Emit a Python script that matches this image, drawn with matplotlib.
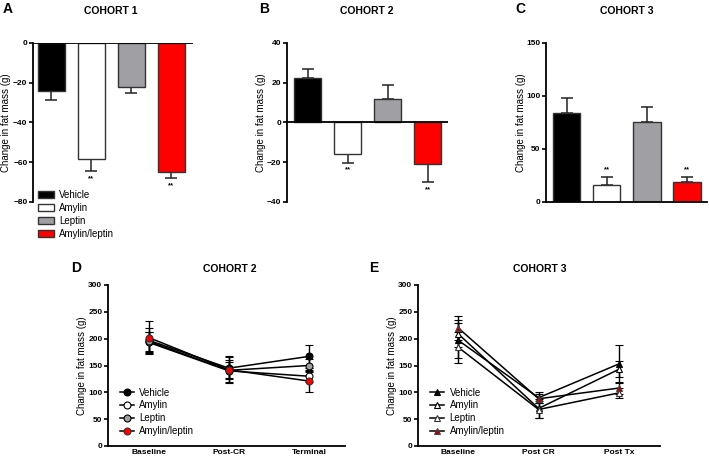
import numpy as np
import matplotlib
matplotlib.use("Agg")
import matplotlib.pyplot as plt
from matplotlib.patches import Patch
from matplotlib.lines import Line2D

plt.rcParams['font.family'] = ['Liberation Sans', 'DejaVu Sans']

groups = ["Vehicle", "Amylin", "Leptin", "Amylin/leptin"]
bar_colors = ["#000000", "#ffffff", "#a0a0a4", "#ff0000"]

# bar panels: mean and SEM
c1_mean = [-24, -58.5, -22, -65]
c1_err = [4.5, 6, 3, 3]
c2_mean = [22.5, -16, 11.7, -21]
c2_err = [4.3, 4.3, 7.3, 9]
c3_mean = [83.7, 16, 75.8, 18.6]
c3_err = [14.7, 8, 13.8, 5]

# time courses
d_times = ["Baseline", "Post-CR", "Terminal"]
d_mean = {"Vehicle": [197, 145, 167], "Amylin": [193, 140, 130],
          "Leptin": [195, 141, 150], "Amylin/leptin": [202, 142, 121]}
d_err = {"Vehicle": [22, 20, 21], "Amylin": [20, 20, 10],
         "Leptin": [18, 15, 12], "Amylin/leptin": [30, 25, 21]}

e_times = ["Baseline", "Post CR", "Post Tx"]
e_mean = {"Vehicle": [197, 90, 153], "Amylin": [209, 70, 143],
          "Leptin": [184, 68, 99], "Amylin/leptin": [220, 88, 108]}
e_err = {"Vehicle": [33, 10, 36], "Amylin": [25, 18, 15],
         "Leptin": [29, 15, 9], "Amylin/leptin": [22, 8, 12]}

W, H = 709, 459
fig = plt.figure(figsize=(W / 100, H / 100), dpi=100)


def px_axes(x0, x1, ytop, ybot):
    return fig.add_axes([x0 / W, 1 - ybot / H, (x1 - x0) / W, (ybot - ytop) / H])


def style(ax, label_x):
    for s in ["top", "right"]:
        ax.spines[s].set_visible(False)
    ax.spines["left"].set_linewidth(1.3)
    ax.spines["bottom"].set_linewidth(1.3)
    ax.tick_params(axis="y", direction="out", length=3, width=1.2, labelsize=6, pad=1)
    for t in ax.get_yticklabels():
        t.set_fontweight("bold")
    ax.set_ylabel("Change in fat mass (g)", fontsize=7)
    ax.yaxis.set_label_coords(label_x, 0.5)


def fig_text(x, y, s, **kw):
    fig.text(x / W, 1 - y / H, s, ha="center", va="center", **kw)


def bar_panel(ax, mean, err, ylim, yticks, xlim, sig_idx, label_x, sig_above=False):
    x = np.arange(len(mean))
    ax.bar(x, mean, width=0.68, color=bar_colors, edgecolor="#333333", linewidth=1.0, zorder=2)
    for i in range(len(mean)):
        d = err[i] if mean[i] >= 0 else -err[i]
        ax.errorbar(x[i], mean[i], yerr=[[0], [err[i]]] if mean[i] >= 0 else [[err[i]], [0]],
                    fmt="none", ecolor="#222222", elinewidth=1.1, capsize=4, capthick=1.1, zorder=1)
        if i in sig_idx:
            off = (ylim[1] - ylim[0]) * 0.045
            yy = mean[i] + d + (off if (sig_above or mean[i] >= 0) else -off)
            ax.text(x[i], yy, "**", fontsize=5.5, ha="center", va="center", fontweight="bold")
    ax.set_ylim(*ylim)
    ax.set_yticks(yticks)
    ax.set_xlim(*xlim)
    ax.set_xticks([])
    style(ax, label_x)


# A
axA = px_axes(33, 193, 43, 202)
bar_panel(axA, c1_mean, c1_err, (-80, 0), [0, -20, -40, -60, -80], (-0.46, 3.54), [1, 3], -0.135)
axA.spines["bottom"].set_visible(False)
axA.axhline(0, color="black", lw=1.3, zorder=3)

# B
axB = px_axes(287, 448, 43, 202)
bar_panel(axB, c2_mean, c2_err, (-40, 40), [40, 20, 0, -20, -40], (-0.52, 3.51), [1, 3], -0.128)
axB.spines["bottom"].set_visible(False)
axB.axhline(0, color="black", lw=1.3, zorder=3)

# C
axC = px_axes(546, 707, 43, 202)
bar_panel(axC, c3_mean, c3_err, (0, 150), [0, 50, 100, 150], (-0.52, 3.5), [1, 3], -0.124,
          sig_above=True)

# legend for bars
handles = [Patch(facecolor=c, edgecolor="#333333", linewidth=1.0) for c in bar_colors]
fig.legend(handles, groups, loc="upper left", bbox_to_anchor=(38 / W, 1 - 190 / H),
           frameon=False, fontsize=7, handlelength=1.6, handleheight=0.8,
           labelspacing=0.3, handletextpad=0.6, borderaxespad=0, borderpad=0)


def line_panel(ax, times, means, errs, styles, xlim):
    xx = np.arange(len(times))
    hs = []
    for g in groups:
        ax.errorbar(xx, means[g], yerr=errs[g], color="black", lw=1.1, elinewidth=1.0,
                    capsize=3, capthick=1.0, ms=5, mew=0.8, **styles[g])
        hs.append(Line2D([], [], color="black", lw=1.1, ms=5, mew=0.8, **styles[g]))
    ax.set_xlim(*xlim)
    ax.set_ylim(0, 300)
    ax.set_yticks(range(0, 301, 50))
    ax.set_xticks(xx)
    ax.set_xticklabels(times, fontsize=6, fontweight="bold")
    ax.tick_params(axis="x", length=0, pad=2)
    style(ax, -0.088)
    ax.legend(hs, groups, loc="lower left", bbox_to_anchor=(0.03, 0.03), frameon=False,
              fontsize=7, handlelength=1.4, labelspacing=0.3, handletextpad=0.6, borderpad=0)


# D
axD = px_axes(108, 345, 285, 446)
d_style = {"Vehicle": dict(marker="o", mfc="black", mec="black"),
           "Amylin": dict(marker="o", mfc="white", mec="black"),
           "Leptin": dict(marker="o", mfc="#a0a0a4", mec="black"),
           "Amylin/leptin": dict(marker="o", mfc="#ff0000", mec="#333333")}
line_panel(axD, d_times, d_mean, d_err, d_style, (-0.51, 2.45))

# E
axE = px_axes(418, 660, 285, 446)
e_style = {"Vehicle": dict(marker="^", mfc="black", mec="black"),
           "Amylin": dict(marker="^", mfc="white", mec="black"),
           "Leptin": dict(marker="^", mfc="white", mec="#333333"),
           "Amylin/leptin": dict(marker="^", mfc="#b00000", mec="#444444")}
line_panel(axE, e_times, e_mean, e_err, e_style, (-0.5, 2.51))

# titles and letters
fig_text(111, 11, "COHORT 1", fontsize=7.5, fontweight="bold")
fig_text(367, 11, "COHORT 2", fontsize=7.5, fontweight="bold")
fig_text(627, 11, "COHORT 3", fontsize=7.5, fontweight="bold")
fig_text(230, 269, "COHORT 2", fontsize=7.5, fontweight="bold")
fig_text(540, 269, "COHORT 3", fontsize=7.5, fontweight="bold")
fig_text(8, 9, "A", fontsize=10, fontweight="bold")
fig_text(264, 9, "B", fontsize=10, fontweight="bold")
fig_text(520, 9, "C", fontsize=10, fontweight="bold")
fig_text(76, 268, "D", fontsize=10, fontweight="bold")
fig_text(374, 268, "E", fontsize=10, fontweight="bold")

fig.savefig("out.png", dpi=100)
